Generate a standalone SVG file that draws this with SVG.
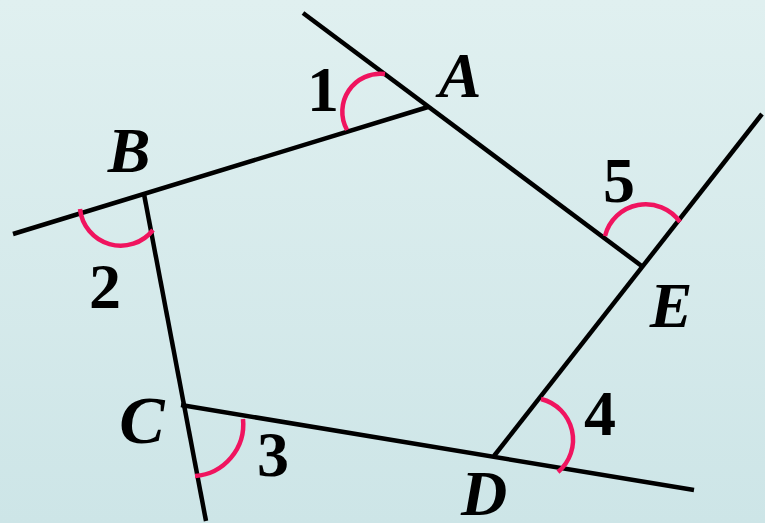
<svg xmlns="http://www.w3.org/2000/svg" width="765" height="523" viewBox="0 0 765 523">
<defs>
<linearGradient id="bg" x1="0" y1="0" x2="0" y2="1">
<stop offset="0" stop-color="#e0f0f0"/>
<stop offset="1" stop-color="#cde5e7"/>
</linearGradient>
<style>
.ln{stroke:#000;stroke-width:4.5;fill:none;stroke-linecap:butt}
.arc{stroke:#f0145f;stroke-width:4.5;fill:none}
.lbl{font-family:"Liberation Serif","Times New Roman",serif;font-size:64px;font-weight:bold;font-style:italic;fill:#000;text-anchor:middle}
.num{font-family:"Liberation Serif","Times New Roman",serif;font-size:64px;font-weight:bold;fill:#000;text-anchor:middle}
</style>
</defs>
<rect x="0" y="0" width="765" height="523" fill="url(#bg)"/>
<g id="connectors">
<line class="ln" x1="303" y1="13" x2="643" y2="267"/>
<line class="ln" x1="13" y1="234" x2="428" y2="107"/>
<line class="ln" x1="144" y1="194" x2="206" y2="521"/>
<line class="ln" x1="181" y1="405" x2="694" y2="490"/>
<line class="ln" x1="494" y1="456" x2="762" y2="114"/>
</g>
<g id="angles">
<path class="arc" d="M347,130 A38,38 0 0 1 385,74"/>
<path class="arc" d="M80,209 A41,41 0 0 0 153,230"/>
<path class="arc" d="M243,419 A52,52 0 0 1 195,476"/>
<path class="arc" d="M541,399 A42,42 0 0 1 558,472"/>
<path class="arc" d="M605,236 A42,42 0 0 1 680,222"/>
</g>
<g id="node-A"><text class="lbl" x="460" y="97">A</text></g>
<g id="node-B"><text class="lbl" x="129" y="172">B</text></g>
<g id="node-C"><text class="lbl" x="142" y="443" style="font-size:68px">C</text></g>
<g id="node-D"><text class="lbl" x="484" y="515">D</text></g>
<g id="node-E"><text class="lbl" x="671" y="327">E</text></g>
<g id="label-1"><text class="num" x="323" y="111">1</text></g>
<g id="label-2"><text class="num" x="105" y="308">2</text></g>
<g id="label-3"><text class="num" x="273" y="476">3</text></g>
<g id="label-4"><text class="num" x="600" y="435">4</text></g>
<g id="label-5"><text class="num" x="619" y="202">5</text></g>
</svg>
